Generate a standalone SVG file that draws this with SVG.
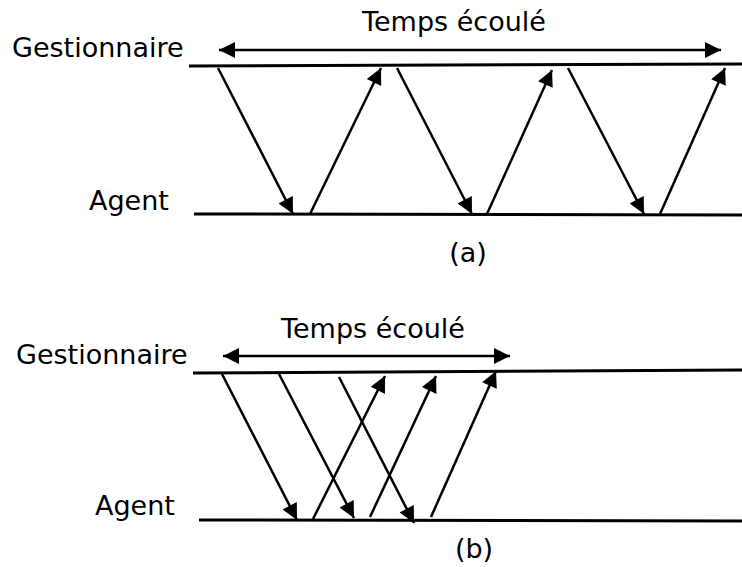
<svg xmlns="http://www.w3.org/2000/svg" width="742" height="567" viewBox="0 0 742 567">
<style>
text{font-family:"DejaVu Sans",sans-serif;font-size:27px;fill:#000}
.ln{stroke:#000;stroke-width:3;fill:none}
.ar{stroke:#000;stroke-width:2.5;fill:none;marker-end:url(#ah)}
.da{stroke:#000;stroke-width:2.5;fill:none;marker-end:url(#ah);marker-start:url(#ahs)}
</style>
<defs>
<marker id="ah" viewBox="0 0 10 10" refX="10" refY="5" markerWidth="7" markerHeight="6.4" markerUnits="strokeWidth" orient="auto"><path d="M0,0 L10,5 L0,10 z" fill="#000"/></marker>
<marker id="ahs" viewBox="0 0 10 10" refX="0" refY="5" markerWidth="7" markerHeight="6.4" markerUnits="strokeWidth" orient="auto"><path d="M10,0 L0,5 L10,10 z" fill="#000"/></marker>
</defs>
<g id="panel-a">
<g id="a-gestionnaire"><text x="12" y="57">Gestionnaire</text><line class="ln" x1="189" y1="66" x2="742" y2="64"/></g>
<g id="a-agent"><text x="89" y="210">Agent</text><line class="ln" x1="194" y1="214" x2="742" y2="215"/></g>
<g id="a-temps"><text x="454" y="31" text-anchor="middle">Temps écoulé</text></g>
<text x="468" y="262" text-anchor="middle">(a)</text>
</g>
<g id="panel-b">
<g id="b-gestionnaire"><text x="16" y="364">Gestionnaire</text><line class="ln" x1="193" y1="373" x2="742" y2="370"/></g>
<g id="b-agent"><text x="95" y="515">Agent</text><line class="ln" x1="199" y1="520" x2="742" y2="521"/></g>
<g id="b-temps"><text x="373" y="338" text-anchor="middle">Temps écoulé</text></g>
<text x="474" y="558" text-anchor="middle">(b)</text>
</g>
<g id="connectors">
<line class="da" x1="219" y1="50" x2="721" y2="50"/>
<line class="ar" x1="218" y1="68" x2="293" y2="214"/>
<line class="ar" x1="310" y1="214" x2="381" y2="68"/>
<line class="ar" x1="397" y1="68" x2="472" y2="214"/>
<line class="ar" x1="487" y1="214" x2="552" y2="70"/>
<line class="ar" x1="568" y1="68" x2="644" y2="214"/>
<line class="ar" x1="660" y1="214" x2="725" y2="68"/>
<line class="da" x1="223" y1="356" x2="510" y2="356"/>
<line class="ar" x1="222" y1="374" x2="297" y2="520"/>
<line class="ar" x1="279" y1="374" x2="354" y2="518"/>
<line class="ar" x1="339" y1="377" x2="414" y2="523"/>
<line class="ar" x1="313" y1="519" x2="385" y2="376"/>
<line class="ar" x1="370" y1="517" x2="436" y2="376"/>
<line class="ar" x1="431" y1="517" x2="496" y2="371"/>
</g>
</svg>
